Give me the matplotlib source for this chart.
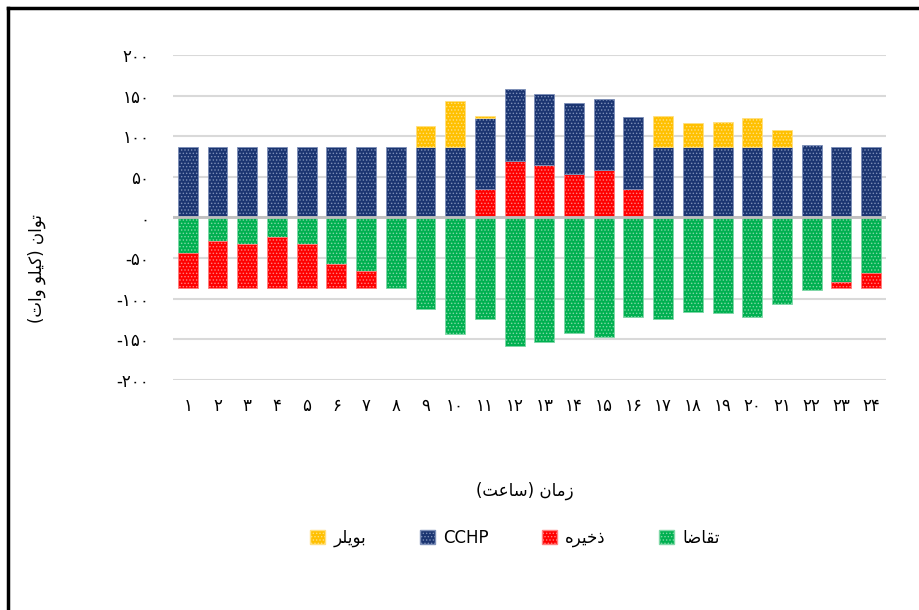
import numpy as np
import matplotlib.pyplot as plt
from matplotlib.patches import Patch
from matplotlib.lines import Line2D

# داده‌ها (کیلووات) برای ۲۴ ساعت
hours = list(range(1, 25))
cchp = [87, 87, 87, 87, 87, 87, 87, 87, 87, 87, 87, 88, 87, 87, 87, 88,
        87, 87, 87, 87, 87, 88, 87, 87]
boiler = [0, 0, 0, 0, 0, 0, 0, 0, 25, 56, 3, 0, 0, 0, 0, 0,
          38, 29, 31, 35, 20, 0, 0, 0]
storage_out = [0, 0, 0, 0, 0, 0, 0, 0, 0, 0, 35, 70, 65, 54, 59, 35,
               0, 0, 0, 0, 0, 1.5, 0, 0]
demand = [44, 29, 33, 24.5, 32.5, 57.5, 66, 87, 112, 143, 125, 158, 153, 142, 147, 123,
          125, 116, 118, 122, 107, 89.5, 79, 68]
storage_in = [43, 58, 54, 62.5, 54.5, 29.5, 21, 0, 0, 0, 0, 0, 0, 0, 0, 0,
              0, 0, 0, 0, 0, 0, 8, 19]

fa_digits = str.maketrans('0123456789', '۰۱۲۳۴۵۶۷۸۹')

# شکل‌دهی ساده حروف فارسی (matplotlib خودش اتصال حروف را انجام نمی‌دهد)
forms = {
    'ا': ('\ufe8d', '\ufe8e', None, None),
    'ب': ('\ufe8f', '\ufe90', '\ufe91', '\ufe92'),
    'ت': ('\ufe95', '\ufe96', '\ufe97', '\ufe98'),
    'خ': ('\ufea5', '\ufea6', '\ufea7', '\ufea8'),
    'ذ': ('\ufeab', '\ufeac', None, None),
    'ر': ('\ufead', '\ufeae', None, None),
    'ز': ('\ufeaf', '\ufeb0', None, None),
    'س': ('\ufeb1', '\ufeb2', '\ufeb3', '\ufeb4'),
    'ض': ('\ufebd', '\ufebe', '\ufebf', '\ufec0'),
    'ع': ('\ufec9', '\ufeca', '\ufecb', '\ufecc'),
    'ق': ('\ufed5', '\ufed6', '\ufed7', '\ufed8'),
    'ک': ('\ufb8e', '\ufb8f', '\ufb90', '\ufb91'),
    'ل': ('\ufedd', '\ufede', '\ufedf', '\ufee0'),
    'م': ('\ufee1', '\ufee2', '\ufee3', '\ufee4'),
    'ن': ('\ufee5', '\ufee6', '\ufee7', '\ufee8'),
    'ه': ('\ufee9', '\ufeea', '\ufeeb', '\ufeec'),
    'و': ('\ufeed', '\ufeee', None, None),
    'ی': ('\ufbfc', '\ufbfd', '\ufbfe', '\ufbff'),
}
mirror = {'(': ')', ')': '('}


def fa(text):
    out = []
    for i, ch in enumerate(text):
        if ch not in forms:
            out.append(mirror.get(ch, ch))
            continue
        prev = text[i - 1] if i > 0 else ''
        nxt = text[i + 1] if i + 1 < len(text) else ''
        join_prev = prev in forms and forms[prev][2] is not None
        join_next = nxt in forms and forms[ch][2] is not None
        iso, fin, ini, med = forms[ch]
        if join_prev and join_next:
            out.append(med)
        elif join_prev:
            out.append(fin)
        elif join_next:
            out.append(ini)
        else:
            out.append(iso)
    return ''.join(out[::-1])


plt.rcParams['font.family'] = ['DejaVu Sans']
plt.rcParams['hatch.linewidth'] = 0.6

c_boiler = '#FFC000'
c_cchp = '#1B3571'
c_store = '#FF0000'
c_demand = '#00B050'
e_boiler = '#ffe080'
e_cchp = '#7d8fb8'
e_store = '#ff8080'
e_demand = '#80d8a8'

fig = plt.figure(figsize=(9.2, 6.1), dpi=100)
ax = fig.add_axes([0.188, 0.377, 0.775, 0.533])

x = np.array(hours)
w = 0.67


def stack(vals, bottom, color, edge):
    vals = np.array(vals, dtype=float)
    bottom = np.array(bottom, dtype=float)
    m = vals != 0  # بدون میله‌های صفر
    ax.bar(x[m], vals[m], bottom=bottom[m], width=w, color=color, edgecolor=edge,
           hatch='.....', linewidth=0.6, zorder=3)


zeros = np.zeros(len(hours))
stack(storage_out, zeros, c_store, e_store)
stack(cchp, storage_out, c_cchp, e_cchp)
stack(boiler, np.array(storage_out) + np.array(cchp), c_boiler, e_boiler)
neg_d = -np.array(demand)
stack(neg_d, zeros, c_demand, e_demand)
stack(-np.array(storage_in), neg_d, c_store, e_store)

ax.set_ylim(-200, 200)
ax.set_xlim(0.5, 24.5)
yt = np.arange(-200, 201, 50)
ax.set_yticks(yt)
ax.set_yticklabels([('-' if v < 0 else '') + str(abs(v)).translate(fa_digits) for v in yt],
                   fontsize=12)
ax.set_xticks(x)
ax.set_xticklabels([str(h).translate(fa_digits) for h in hours], fontsize=12)
ax.tick_params(length=0, axis='y', pad=17)
ax.tick_params(length=0, axis='x', pad=12)
for s in ax.spines.values():
    s.set_visible(False)
ax.grid(axis='y', color='#d9d9d9', linewidth=1.5, zorder=0)
ax.axhline(0, color='#bfbfbf', linewidth=2, zorder=4)

fig.text(0.57, 0.195, fa('زمان (ساعت)'), ha='center', va='center', fontsize=12)
fig.text(0.04, 0.56, fa('توان (کیلو وات)'), ha='center', va='center', rotation=90, fontsize=12)

handles = [
    Patch(facecolor=c_boiler, edgecolor=e_boiler, hatch='.....'),
    Patch(facecolor=c_cchp, edgecolor=e_cchp, hatch='.....'),
    Patch(facecolor=c_store, edgecolor=e_store, hatch='.....'),
    Patch(facecolor=c_demand, edgecolor=e_demand, hatch='.....'),
]
labels = [fa('بویلر'), 'CCHP', fa('ذخیره'), fa('تقاضا')]
fig.legend(handles, labels, loc='center', bbox_to_anchor=(0.56, 0.118), ncol=4,
           frameon=False, fontsize=12, handlelength=0.9, handleheight=0.9,
           columnspacing=3.2, handletextpad=0.5)

# قاب بیرونی (فقط بالا و چپ دیده می‌شود)
fig.add_artist(Line2D([0.0085, 0.0085], [0, 0.987], color='black', linewidth=2.5,
                      transform=fig.transFigure))
fig.add_artist(Line2D([0.0085, 1.0], [0.987, 0.987], color='black', linewidth=2.5,
                      transform=fig.transFigure))

fig.savefig('out.png', dpi=100, facecolor='white')
